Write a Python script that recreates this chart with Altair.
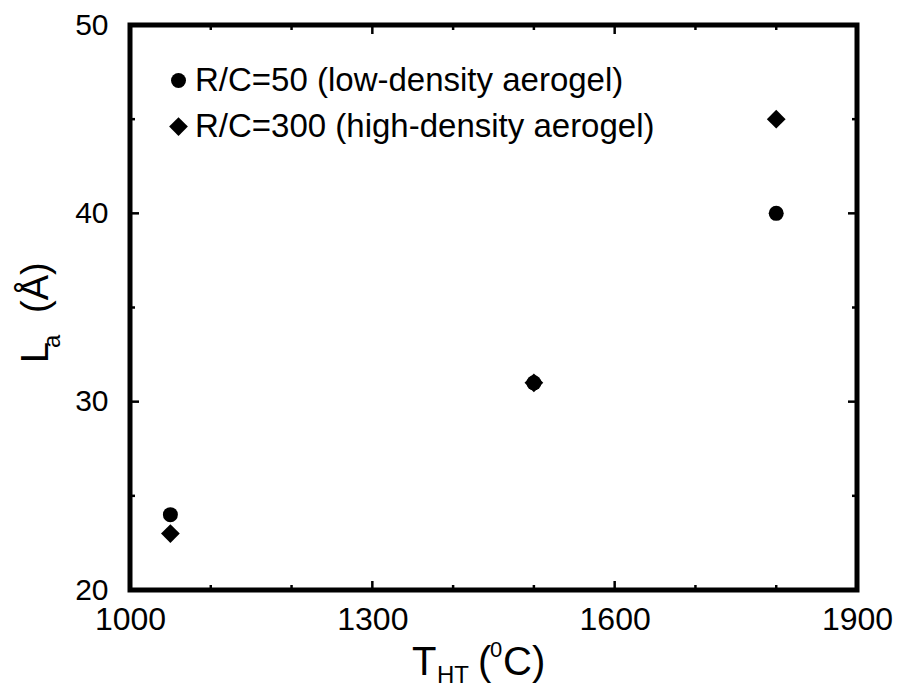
import altair as alt
import pandas as pd

# ---- data ----
temps = [1050, 1500, 1800]
la_low = [24, 31, 40]
la_high = [23, 31, 45]
series_names = ["R/C=50 (low-density aerogel)", "R/C=300 (high-density aerogel)"]
x_major = [1000, 1300, 1600, 1900]
x_minor = [1100, 1200, 1400, 1500, 1700, 1800]
y_major = [20, 30, 40, 50]
y_minor = [25, 35, 45]

W, H = 727, 565
FONT = "Liberation Sans"

df = pd.DataFrame({
    "T": temps + temps,
    "La": la_low + la_high,
    "series": [series_names[0]] * len(temps) + [series_names[1]] * len(temps),
})

xscale = alt.Scale(domain=[1000, 1900], nice=False, zero=False)
yscale = alt.Scale(domain=[20, 50], nice=False, zero=False)

diamond = "M-1.25,0L0,-1.25L1.25,0L0,1.25Z"

points = alt.Chart(df).mark_point(filled=True, opacity=1, color="black", size=225).encode(
    x=alt.X("T:Q", scale=xscale,
            axis=alt.Axis(values=x_major, format="d", title=None, ticks=False, domain=False,
                          grid=False, labelFontSize=32, labelFont=FONT, labelColor="black",
                          labelPadding=14, labelFlush=False, labelOverlap=False)),
    y=alt.Y("La:Q", scale=yscale,
            axis=alt.Axis(values=y_major, format="d", title=None, ticks=False, domain=False,
                          grid=False, labelFontSize=30, labelFont=FONT, labelColor="black",
                          labelPadding=22, labelFlush=False, labelOverlap=False)),
    shape=alt.Shape("series:N", scale=alt.Scale(domain=series_names, range=["circle", diamond]),
                    legend=alt.Legend(title=None, orient="none", legendX=32, legendY=39,
                                      labelFontSize=33, labelFont=FONT, labelColor="black",
                                      labelLimit=0,
                                      symbolFillColor="black", symbolStrokeColor="black",
                                      symbolStrokeWidth=0, symbolSize=225, rowPadding=12,
                                      labelOffset=0, padding=0)),
)


def tick_layer(vals, side, length):
    d = pd.DataFrame({"v": vals})
    base = alt.Chart(d).mark_rule(color="black", strokeWidth=2.5)
    if side == "bottom":
        return base.encode(x=alt.X("v:Q", scale=xscale), y=alt.value(H), y2=alt.value(H - length))
    if side == "top":
        return base.encode(x=alt.X("v:Q", scale=xscale), y=alt.value(0), y2=alt.value(length))
    if side == "left":
        return base.encode(y=alt.Y("v:Q", scale=yscale), x=alt.value(0), x2=alt.value(length))
    return base.encode(y=alt.Y("v:Q", scale=yscale), x=alt.value(W), x2=alt.value(W - length))


ticks = []
for side in ["bottom", "top"]:
    ticks.append(tick_layer(x_major, side, 9))
    ticks.append(tick_layer(x_minor, side, 5))
for side in ["left", "right"]:
    ticks.append(tick_layer(y_major, side, 9))
    ticks.append(tick_layer(y_minor, side, 5))

one = pd.DataFrame({"a": [0]})


def txt(text, x, y, size, angle=0):
    return alt.Chart(one).mark_text(text=text, fontSize=size, font=FONT, align="left",
                                    baseline="alphabetic", angle=angle, color="black").encode(
        x=alt.value(x), y=alt.value(y))


titles = [
    txt("T", 282, 650, 40),
    txt("HT", 307, 658, 24),
    txt("(", 348, 650, 40),
    txt("0", 360, 632, 22),
    txt("C)", 373, 650, 40),
    txt("L", -82, 338, 38, 270),
    txt("a", -70, 323, 24, 270),
    txt("(Å)", -82, 288, 38, 270),
]

chart = alt.layer(points, *ticks, *titles).properties(
    width=W, height=H,
    background="white",
    autosize=alt.AutoSizeParams(type="none"),
    padding={"left": 130, "top": 25, "right": 43, "bottom": 103},
).configure_view(stroke="black", strokeWidth=5)

chart.save("out.html", embed_options={"renderer": "svg", "actions": False})
